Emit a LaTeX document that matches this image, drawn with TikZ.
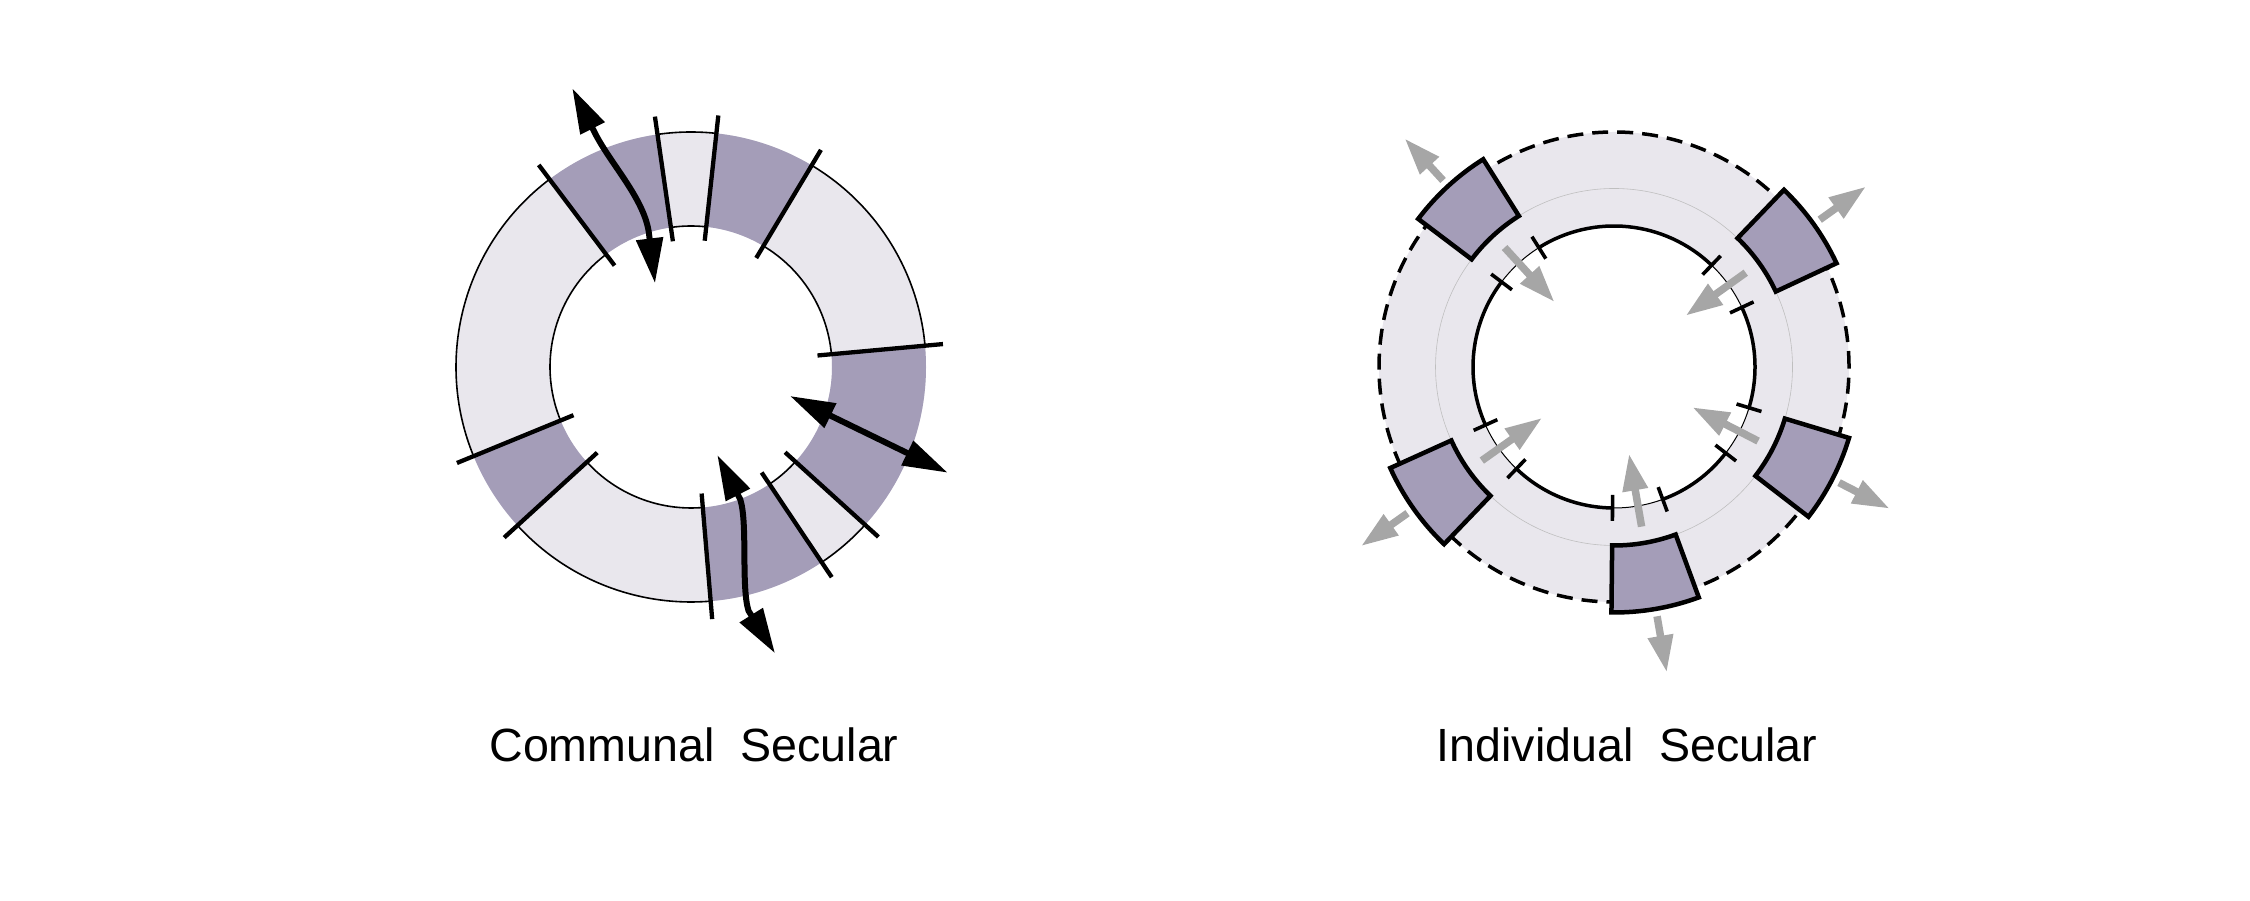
\documentclass[tikz,border=0pt]{standalone}
\usepackage{fontspec}
\setmainfont{Liberation Sans}
\usetikzlibrary{arrows.meta, positioning}
\definecolor{ringlight}{HTML}{E9E7ED}
\definecolor{ringdark}{HTML}{A49DB8}
\definecolor{pushgrey}{HTML}{A6A6A6}
\def\Rin{141pt}
\def\Rout{235pt}
\def\Rmid{178.5pt}
\def\Rbox{245.5pt}
\def\Tin{127pt}
\def\Tout{253pt}
\tikzstyle{every node} = [font=\fontsize{46.6}{50}\selectfont]
\tikzstyle{ring}    = [fill=ringlight, even odd rule]
\tikzstyle{sector}  = [fill=ringdark]
\tikzstyle{rim}     = [draw=black, line width=1.6pt]
\tikzstyle{divider} = [draw=black, line width=4.3pt]
\tikzstyle{twoway}  = [draw=black, line width=6pt, line join=round, {Triangle[length=45pt,width=26pt]}-{Triangle[length=45pt,width=26pt]}]
\tikzstyle{room}    = [fill=ringdark, draw=black, line width=4.5pt]
\tikzstyle{wall}    = [draw=black, line width=3.5pt]
\tikzstyle{doorway} = [draw=black, line width=1pt]
\tikzstyle{jamb}    = [draw=black, line width=3.6pt]
\tikzstyle{fence}   = [draw=black, line width=3.5pt, dash pattern=on 16pt off 9pt]
\tikzstyle{guide}   = [draw=black!25, line width=0.6pt]
\tikzstyle{push}    = [draw=pushgrey, line width=7.5pt, -{Triangle[length=37pt,width=24pt]}]
\begin{document}
\begin{tikzpicture}[x=1pt, y=1pt]
\useasboundingbox (0,0) rectangle (2250,901);
% Objects
    % Centres
    \coordinate (comm)  at (691,534);
    \coordinate (indiv) at (1614,534);

    % Communal ring
    \begin{scope}[shift={(comm)}]
    \fill[ring]   (0,0) circle (\Rout) (0,0) circle (\Rin);
    \fill[sector] (98.2:\Rin)   arc (98.2:127:\Rin)     -- (127:\Rout)   arc (127:98.2:\Rout)     -- cycle;
    \fill[sector] (59.1:\Rin)   arc (59.1:83.8:\Rin)    -- (83.8:\Rout)  arc (83.8:59.1:\Rout)    -- cycle;
    \fill[sector] (-42.2:\Rin)  arc (-42.2:5.2:\Rin)    -- (5.2:\Rout)   arc (5.2:-42.2:\Rout)    -- cycle;
    \fill[sector] (-85.2:\Rin)  arc (-85.2:-56.2:\Rin)  -- (-56.2:\Rout) arc (-56.2:-85.2:\Rout)  -- cycle;
    \fill[sector] (-157.7:\Rin) arc (-157.7:-137.6:\Rin) -- (-137.6:\Rout) arc (-137.6:-157.7:\Rout) -- cycle;
    % edges of the open parts
    \draw[rim] (127:\Rin)    arc (127:202.3:\Rin);   \draw[rim] (127:\Rout)    arc (127:202.3:\Rout);
    \draw[rim] (83.8:\Rin)   arc (83.8:98.2:\Rin);   \draw[rim] (83.8:\Rout)   arc (83.8:98.2:\Rout);
    \draw[rim] (5.2:\Rin)    arc (5.2:59.1:\Rin);    \draw[rim] (5.2:\Rout)    arc (5.2:59.1:\Rout);
    \draw[rim] (-56.2:\Rin)  arc (-56.2:-42.2:\Rin); \draw[rim] (-56.2:\Rout)  arc (-56.2:-42.2:\Rout);
    \draw[rim] (-137.6:\Rin) arc (-137.6:-85.2:\Rin); \draw[rim] (-137.6:\Rout) arc (-137.6:-85.2:\Rout);
    % dividers
    \draw[divider] (127:\Tin)    -- (127:\Tout);
    \draw[divider] (98.2:\Tin)   -- (98.2:\Tout);
    \draw[divider] (83.8:\Tin)   -- (83.8:\Tout);
    \draw[divider] (59.1:\Tin)   -- (59.1:\Tout);
    \draw[divider] (5.2:\Tin)    -- (5.2:\Tout);
    \draw[divider] (-42.2:\Tin)  -- (-42.2:\Tout);
    \draw[divider] (-56.2:\Tin)  -- (-56.2:\Tout);
    \draw[divider] (-85.2:\Tin)  -- (-85.2:\Tout);
    \draw[divider] (-137.6:\Tin) -- (-137.6:\Tout);
    \draw[divider] (-157.7:\Tin) -- (-157.7:\Tout);
    \end{scope}

    % Individual ring
    \begin{scope}[shift={(indiv)}]
    \fill[ring]  (0,0) circle (\Rout) (0,0) circle (\Rin);
    \draw[guide] (0,0) circle (\Rmid);
    \draw[fence] (0,0) circle (\Rout);
    \draw[doorway] (0,0) circle (\Rin);
    \draw[wall] (142.9:\Rin) arc (142.9:204.3:\Rin);
    \draw[wall] (-133.8:\Rin) arc (-133.8:-90.6:\Rin);
    \draw[wall] (-69.8:\Rin) arc (-69.8:-37.6:\Rin);
    \draw[wall] (-16.8:\Rin) arc (-16.8:25:\Rin);
    \draw[wall] (46.2:\Rin) arc (46.2:122.2:\Rin);
    % door jambs
    \draw[jamb] (122.2:128pt) -- (122.2:154pt);  \draw[jamb] (142.9:128pt) -- (142.9:154pt);
    \draw[jamb] (25:128pt)    -- (25:154pt);     \draw[jamb] (46.2:128pt)  -- (46.2:154pt);
    \draw[jamb] (-37.6:128pt) -- (-37.6:154pt);  \draw[jamb] (-16.8:128pt) -- (-16.8:154pt);
    \draw[jamb] (-90.6:128pt) -- (-90.6:154pt);  \draw[jamb] (-69.8:128pt) -- (-69.8:154pt);
    \draw[jamb] (-155.7:128pt) -- (-155.7:154pt); \draw[jamb] (-133.8:128pt) -- (-133.8:154pt);
    % rooms
    \draw[room] (122.2:\Rmid) arc (122.2:142.9:\Rmid) -- (142.9:\Rbox) arc (142.9:122.2:\Rbox) -- cycle;
    \draw[room] (25:\Rmid)    arc (25:46.2:\Rmid)     -- (46.2:\Rbox)  arc (46.2:25:\Rbox)     -- cycle;
    \draw[room] (-37.6:\Rmid) arc (-37.6:-16.8:\Rmid) -- (-16.8:\Rbox) arc (-16.8:-37.6:\Rbox) -- cycle;
    \draw[room] (-90.6:\Rmid) arc (-90.6:-69.8:\Rmid) -- (-69.8:\Rbox) arc (-69.8:-90.6:\Rbox) -- cycle;
    \draw[room] (-155.7:\Rmid) arc (-155.7:-133.8:\Rmid) -- (-133.8:\Rbox) arc (-133.8:-155.7:\Rbox) -- cycle;
    % grey arrows, out and in
    \draw[push] (132.5:253pt) -- (132.5:310pt);  \draw[push] (132.5:162pt) -- (132.5:88pt);
    \draw[push] (35.6:253pt)  -- (35.6:310pt);   \draw[push] (35.6:162pt)  -- (35.6:88pt);
    \draw[push] (-27.2:253pt) -- (-27.2:310pt);  \draw[push] (-27.2:162pt) -- (-27.2:88pt);
    \draw[push] (-80.2:253pt) -- (-80.2:310pt);  \draw[push] (-80.2:162pt) -- (-80.2:88pt);
    \draw[push] (-144.7:253pt) -- (-144.7:310pt); \draw[push] (-144.7:162pt) -- (-144.7:88pt);
    \end{scope}

% Arrows
    \coordinate (topOut)   at (572.3,812.7);
    \coordinate (topIn)    at (655,617.7);
    \coordinate (sideIn)   at (790,505);
    \coordinate (sideOut)  at (947.7,428.3);
    \coordinate (lowIn)    at (717.3,446);
    \coordinate (lowOut)   at (775,247.7);
    \draw[twoway] (topOut) -- (594.8,768.2) .. controls (610.5,737) and (644.8,701.8) .. (649,667.2) -- (topIn);
    \draw[twoway] (sideIn) -- (sideOut);
    \draw[twoway] (lowIn) -- (740.3,401.5) .. controls (747.8,377.8) and (741,314) .. (748.5,290.2) -- (lowOut);

% Captions
    \node (lblComm)  [anchor=base] at (694,139.3)  {Communal\ \ Secular};
    \node (lblIndiv) [anchor=base] at (1627,139.3) {Individual\ \ Secular};
\end{tikzpicture}
\end{document}
